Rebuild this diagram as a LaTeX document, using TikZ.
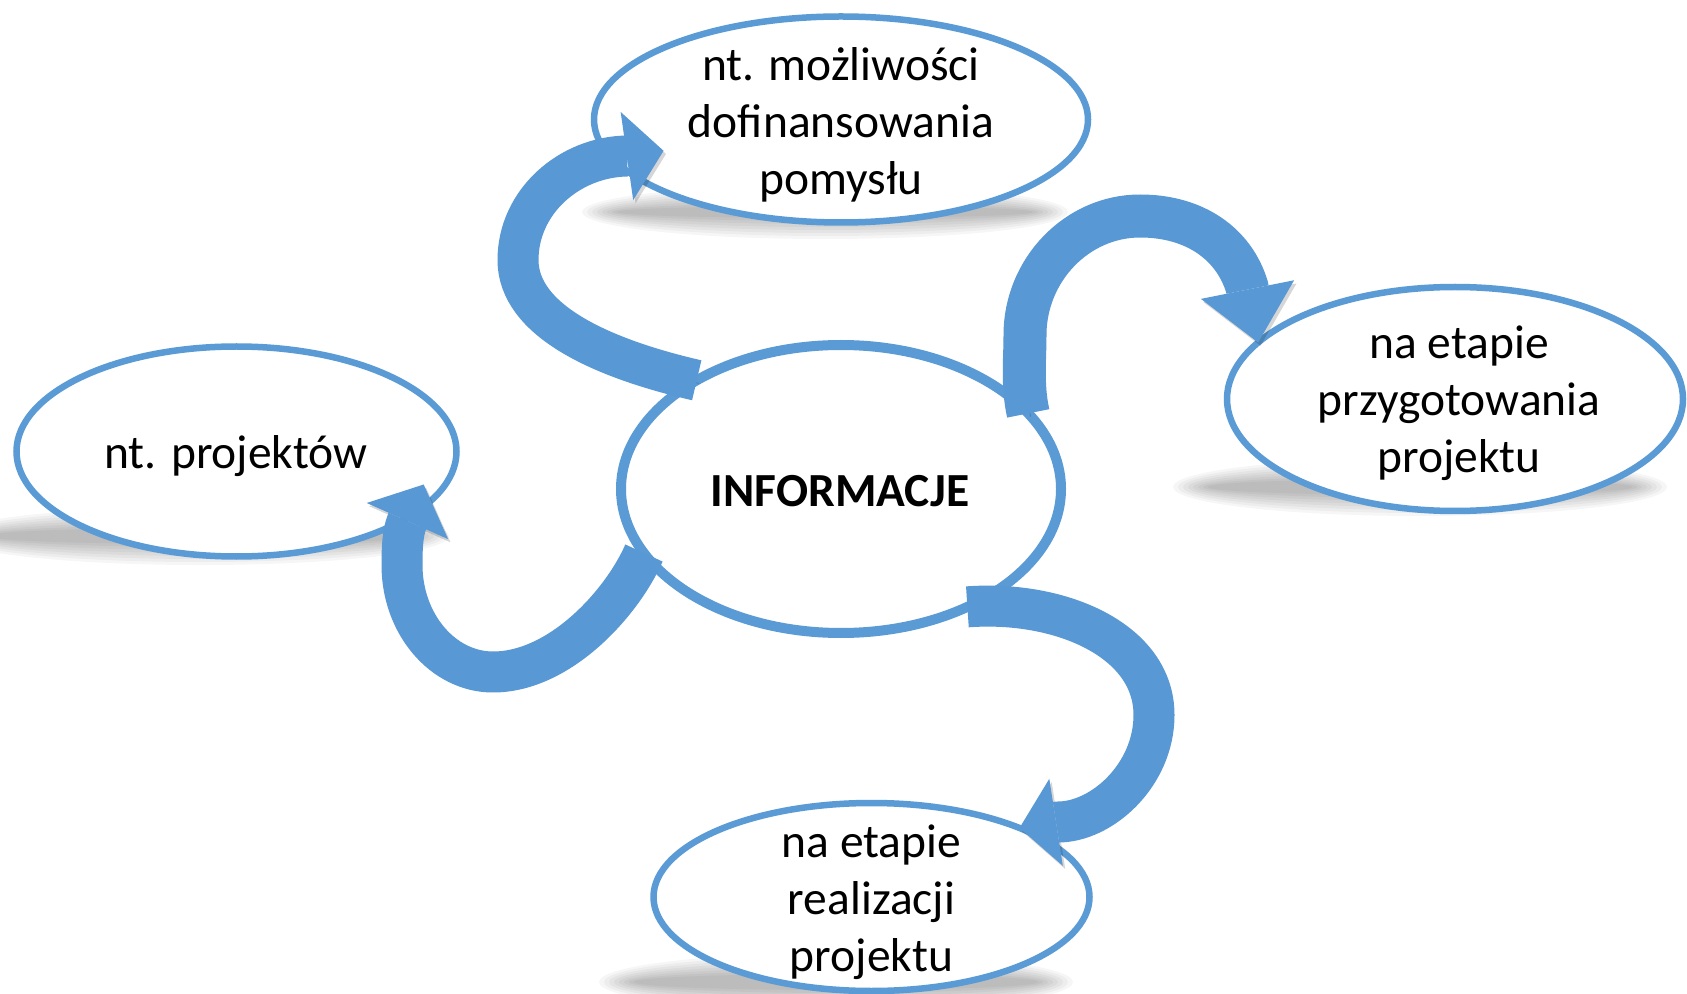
\documentclass[tikz,border=0pt]{standalone}
\usepackage{fontspec}
\setmainfont{Carlito}
\usetikzlibrary{shapes.geometric,arrows.meta,calc}
\definecolor{ebl}{HTML}{5B9BD5}
\definecolor{abl}{HTML}{5898D4}
\newcommand{\softsh}[4]{%
  \foreach \k in {1,...,8}{%
    \fill[black, opacity=0.035] (#1,#2) ellipse ({(#3+20-5*\k)*0.5pt} and {(#4+10-3*\k)*0.5pt});}}
\begin{document}
\begin{tikzpicture}[x=0.5pt,y=-0.5pt,
  ell/.style={ellipse, draw=ebl, line width=3.25pt, fill=white, inner sep=0pt, outer sep=0pt},
  txt/.style={align=center, font=\fontsize{23.75pt}{28.5pt}\selectfont, inner sep=0pt, text=black},
  band/.style={draw=abl, line width=20.5pt, line join=round,
    preaction={draw=black, opacity=0.16, transform canvas={shift={(1.2pt,-1.6pt)}}}}
]
\useasboundingbox (0,0) rectangle (1687,994);
\clip (0,0) rectangle (1687,994);
\fill[white] (0,0) rectangle (1687,994);

% soft floor shadows
\softsh{825}{212}{228}{20}
\softsh{1420}{487}{232}{22}
\softsh{200}{536}{234}{22}
\softsh{836}{982}{222}{22}

% ellipses
\node[ell, minimum width=247pt, minimum height=103pt] (nTop) at (841,119.5) {};
\node[ell, minimum width=220pt, minimum height=144pt, line width=5pt] (nCen) at (841,489) {};
\node[ell, minimum width=220pt, minimum height=105pt] (nLeft) at (236.5,451.5) {};
\node[ell, minimum width=228pt, minimum height=112pt] (nRight) at (1455,399) {};
\node[ell, minimum width=218pt, minimum height=94pt] (nBot) at (871.5,897) {};

% texts
\node[txt] (tTop) at (841,124.5) {nt. możliwości\\dofinansowania\\pomysłu};
\node[txt] (tCen) at (840,491) {\textbf{INFORMACJE}};
\node[txt] (tLeft) at (236,456) {nt. projektów};
\node[txt] (tRight) at (1459,403.5) {na etapie\\przygotowania\\projektu};
\node[txt] (tBot) at (871.5,902.5) {na etapie\\realizacji\\projektu};

% curved arrows
\draw[band, -{Triangle[width=44.5pt,length=18.5pt,line width=0pt]}]
  (nCen.143) .. controls (600,358) and (518,320) .. (518,260)
  .. controls (518,202) and (569,157) .. (627,156)
  -- ($(nTop.center)!0.78!(nTop.190)$);
\draw[band, line width=21.5pt, -{Triangle[width=47.5pt,length=27pt,line width=0pt]}]
  (nCen.22) .. controls (1022,385) and (1025,360) .. (1025,335)
  .. controls (1025,270) and (1077,216) .. (1140,216)
  .. controls (1195,216) and (1234,244) .. (1247,287)
  -- (nRight.164);
\draw[band, -{Triangle[width=44.5pt,length=20pt,line width=0pt]}]
  (nCen.198) .. controls (622,603) and (560,672) .. (493,672)
  .. controls (443,672) and (402,624) .. (402,565)
  .. controls (402,545) and (403,532) .. (407,522)
  -- ($(nLeft.center)!0.907!(nLeft.350)$);
\draw[band, -{Triangle[width=44pt,length=18.5pt,line width=0pt]}]
  (nCen.317) .. controls (1060,600) and (1154,640) .. (1154,715)
  .. controls (1154,775) and (1102,822) .. (1058,822)
  -- (nBot.25);
\end{tikzpicture}
\end{document}
